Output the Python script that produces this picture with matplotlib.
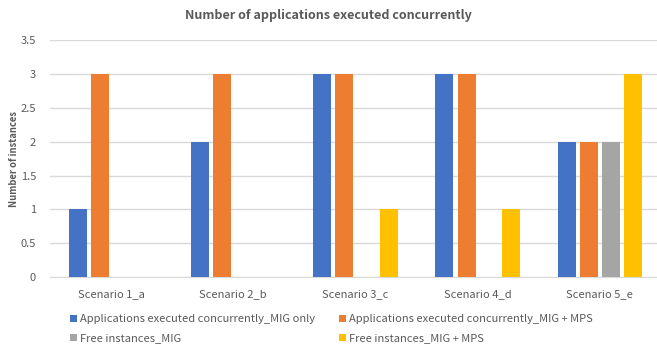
import numpy as np
import matplotlib.pyplot as plt

plt.rcParams['font.family'] = ['Noto Sans CJK KR', 'DejaVu Sans']

scenarios = ["Scenario 1_a", "Scenario 2_b", "Scenario 3_c", "Scenario 4_d", "Scenario 5_e"]
series_names = [
    "Applications executed concurrently_MIG only",
    "Applications executed concurrently_MIG + MPS",
    "Free instances_MIG",
    "Free instances_MIG + MPS",
]
mig_only = [1, 2, 3, 3, 2]
mig_mps = [3, 3, 3, 3, 2]
free_mig = [0, 0, 0, 0, 2]
free_mig_mps = [0, 0, 1, 1, 3]
colors = ["#4472C4", "#ED7D31", "#A5A5A5", "#FFC000"]

fig = plt.figure(figsize=(6.57, 3.45), dpi=100)
ax = fig.add_axes([50 / 657, 1 - 277 / 345, 611 / 657, 236.6 / 345])

x = np.arange(len(scenarios))
slot = 0.182
width = 0.147
bars = []
for i, vals in enumerate([mig_only, mig_mps, free_mig, free_mig_mps]):
    b = ax.bar(x + (i - 1.5) * slot, vals, width, color=colors[i], label=series_names[i], zorder=3)
    bars.append(b)

ax.set_xlim(-0.5, len(scenarios) - 0.5)
ax.set_ylim(0, 3.5)
ax.set_yticks(np.arange(0, 3.51, 0.5))
ax.set_yticklabels(["0", "0.5", "1", "1.5", "2", "2.5", "3", "3.5"])
ax.set_xticks(x)
ax.set_xticklabels(scenarios)
ax.grid(axis="y", color="#D9D9D9", linewidth=1, zorder=0)
for s in ["top", "right", "left"]:
    ax.spines[s].set_visible(False)
ax.spines["bottom"].set_color("#D9D9D9")
ax.tick_params(length=0, labelsize=8, colors="#595959", pad=9)
ax.tick_params(axis="y", pad=10)

ax.set_ylabel("Number of instances", fontsize=6.8, color="#595959", fontweight="bold")
ax.yaxis.set_label_coords(-0.05, 0.5)
fig.text(0.5, 0.954, "Number of applications executed concurrently", ha="center", va="center",
         fontsize=9, fontweight="bold", color="#595959")

# legend rows: blue/orange then gray/yellow (column-major fill)
order = [0, 2, 1, 3]
fig.legend([bars[k] for k in order], [series_names[k] for k in order],
           loc="upper left", bbox_to_anchor=(66 / 657, 1 - 310 / 345), ncol=2, frameon=False,
           fontsize=8, handlelength=0.6, handleheight=0.6, handletextpad=0.25,
           columnspacing=2.2, labelspacing=0.8, borderaxespad=0, labelcolor="#595959")

fig.savefig("out.png", dpi=100)
